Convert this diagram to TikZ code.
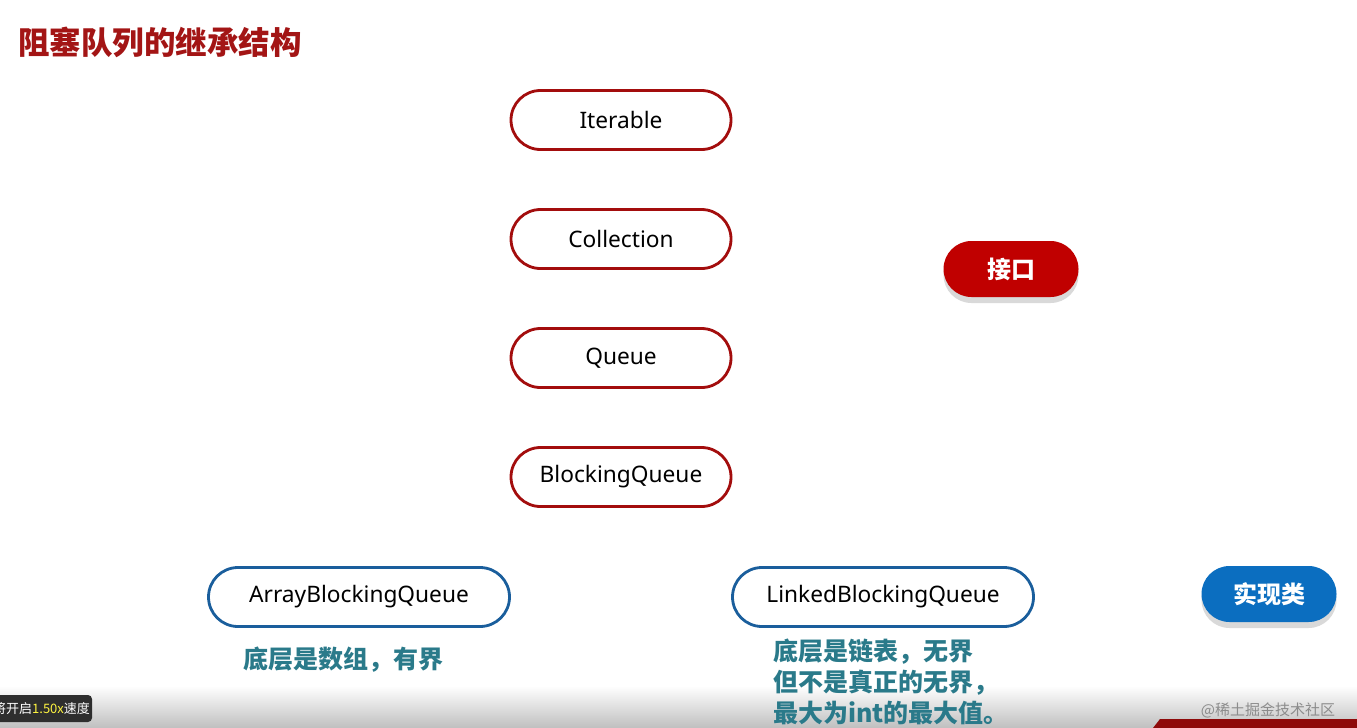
\documentclass[tikz,border=0pt]{standalone}
\usepackage{fontspec}
\setmainfont{Noto Sans}
\newfontfamily\cjk{Noto Sans CJK SC}
\usetikzlibrary{shapes.misc,shadows}
\definecolor{ifaceline}{HTML}{A30D0D}
\definecolor{titlered}{HTML}{A31515}
\definecolor{ifacefill}{HTML}{C00000}
\definecolor{implline}{HTML}{1A5E9C}
\definecolor{implfill}{HTML}{0B6EC0}
\definecolor{noteteal}{HTML}{2A7A8A}
\definecolor{barred}{HTML}{8E0A0A}
\tikzset{
  iface/.style={rounded rectangle, draw=ifaceline, line width=2.8pt, fill=white,
    minimum width=220pt, minimum height=59pt, inner sep=0pt,
    font=\fontsize{22.7}{26}\selectfont},
  impl/.style={iface, draw=implline, minimum width=301pt},
  legendbtn/.style={rounded rectangle, minimum width=135pt, minimum height=56pt, inner sep=0pt,
    text=white, font=\cjk\bfseries\fontsize{24}{28}\selectfont,
    drop shadow={shadow xshift=0pt, shadow yshift=-6pt, fill=black!15, opacity=1}},
  note/.style={anchor=north west, inner sep=0pt, align=left, text=noteteal,
    font=\cjk\bfseries\fontsize{25}{31}\selectfont}
}
\begin{document}
\begin{tikzpicture}[x=1pt,y=-1pt]
\useasboundingbox (0,0) rectangle (1357,728);
\fill[white] (0,0) rectangle (1357,728);
% bottom band (screen overlay)
\shade[top color=white, bottom color=black!25] (0,686) rectangle (1357,728);
% title
\node[anchor=west, inner sep=0pt, text=titlered, font=\cjk\bfseries\fontsize{31.5}{35}\selectfont] (title) at (18,42) {阻塞队列的继承结构};
% interface nodes
\node[iface] (iterable) at (621,120) {Iterable};
\node[iface] (collection) at (621,239) {Collection};
\node[iface] (queue) at (621,358) {Queue};
\node[iface] (bq) at (621,477) {BlockingQueue};
% implementations
\node[impl] (abq) at (359,597) {ArrayBlockingQueue};
\node[impl] (lbq) at (883,597) {LinkedBlockingQueue};
% legend
\node[legendbtn, fill=ifacefill] (legiface) at (1011,269) {接口};
\node[legendbtn, fill=implfill] (legimpl) at (1269,594) {实现类};
% notes
\node[note] (abqnote) at (243,647) {底层是数组，有界};
\node[note] (lbqnote) at (773,639) {底层是链表，无界\\但不是真正的无界，\\最大为int的最大值。};
% player tooltip
\fill[black!82, rounded corners=4pt] (-10,695) rectangle (92,722);
\begin{scope}
\clip (0,695) rectangle (92,722);
\node[anchor=west, inner sep=0pt, text=white, font=\cjk\fontsize{13}{15}\selectfont] (tip) at (-7,708.5) {将开启\textcolor{yellow!75!white}{1.50x}速度};
\end{scope}
% bottom-right bar and watermark
\fill[barred] (1153,728) -- (1160,719) -- (1357,719) -- (1357,728) -- cycle;
\node[inner sep=0pt, text=black!45, font=\cjk\fontsize{15}{17}\selectfont] (wm) at (1268,710) {@稀土掘金技术社区};
\end{tikzpicture}
\end{document}
